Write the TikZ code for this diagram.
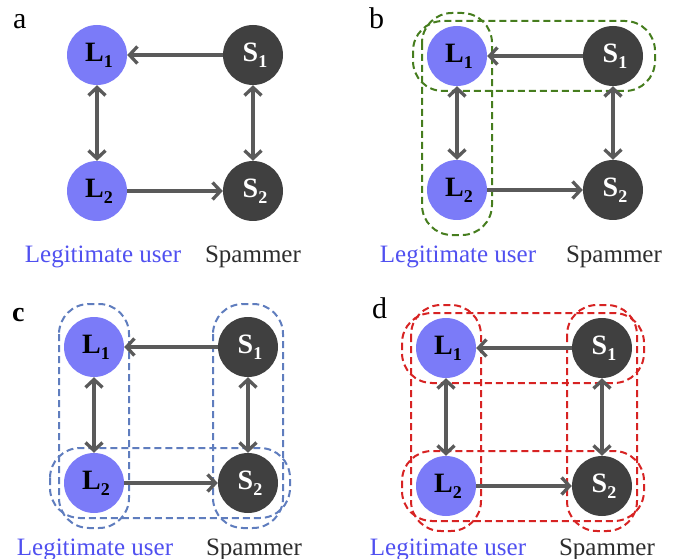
\documentclass[tikz,border=0pt]{standalone}
\usepackage{fontspec}
\setmainfont{Liberation Serif}
\usetikzlibrary{arrows.meta}
\definecolor{lblue}{RGB}{123,123,248}
\definecolor{dnode}{RGB}{64,64,64}
\definecolor{arrc}{RGB}{90,90,90}
\definecolor{ltext}{RGB}{80,80,240}
\definecolor{stext}{RGB}{45,45,45}
\definecolor{gdash}{RGB}{70,125,30}
\definecolor{bdash}{RGB}{95,125,190}
\definecolor{rdash}{RGB}{215,35,35}
\newcommand\nlab[2]{\hspace*{4pt}#1\raisebox{-6pt}{\fontsize{18}{18}\selectfont #2}}
% #1 prefix, #2 xL, #3 xS, #4 yT, #5 yB, #6 legit x, #7 spam x, #8 label baseline
\newcommand\drawpanel[8]{%
  \node[lnode] (#1L1) at (#2,#4) {\nlab{L}{1}};
  \node[snode] (#1S1) at (#3,#4) {\nlab{S}{1}};
  \node[lnode] (#1L2) at (#2,#5) {\nlab{L}{2}};
  \node[snode] (#1S2) at (#3,#5) {\nlab{S}{2}};
  \draw[arr] (#1S1) -- (#1L1);
  \draw[arr] (#1L2) -- (#1S2);
  \draw[arrd] (#1L1) -- (#1L2);
  \draw[arrd] (#1S1) -- (#1S2);
  \node[lab,text=ltext] (#1lg) at (#6,#8) {Legitimate user};
  \node[lab,text=stext] (#1sp) at (#7,#8) {Spammer};
}
% vertical group: #1 x, #2 yT, #3 yB
\newcommand\vgrp[3]{\draw[grp] ({#1-35},{#2-43}) rectangle ({#1+35},{#3+45});}
% horizontal group: #1 xL, #2 xS, #3 y
\newcommand\hgrp[3]{\draw[grp] ({#1-44},{#3-35}) rectangle ({#2+42},{#3+35});}
\begin{document}
\begin{tikzpicture}[x=1pt,y=-1pt,
  lnode/.style={circle,fill=lblue,minimum size=60pt,inner sep=0pt,font=\fontsize{28}{28}\selectfont\bfseries,text=black},
  snode/.style={circle,fill=dnode,minimum size=60pt,inner sep=0pt,font=\fontsize{28}{28}\selectfont\bfseries,text=white},
  arr/.style={draw=arrc,line width=3.3pt,-{Straight Barb[length=8pt,width=17pt]}},
  arrd/.style={draw=arrc,line width=3.3pt,{Straight Barb[length=8pt,width=17pt]}-{Straight Barb[length=8pt,width=17pt]}},
  lab/.style={anchor=base,inner sep=0pt,font=\fontsize{25}{25}\selectfont},
  letter/.style={anchor=base west,inner sep=0pt,font=\fontsize{30}{30}\selectfont},
  grp/.style={line width=2pt,dash pattern=on 7pt off 4pt,rounded corners=30pt}]
\useasboundingbox (0,0) rectangle (686,559);
% panel letters
\node[letter] (la) at (13,29) {a};
\node[letter] (lb) at (369,29) {b};
\node[letter,font=\fontsize{28}{28}\selectfont\bfseries] (lc) at (12,321) {c};
\node[letter] (ld) at (372,318) {d};
% groups
\begin{scope}
  \tikzset{grp/.append style={draw=gdash}}
  \vgrp{457}{56}{190}
  \hgrp{457}{613}{56}
\end{scope}
\begin{scope}
  \tikzset{grp/.append style={draw=bdash}}
  \vgrp{94}{347}{483}
  \vgrp{248}{347}{483}
  \hgrp{94}{248}{483}
\end{scope}
\begin{scope}
  \tikzset{grp/.append style={draw=rdash}}
  \vgrp{446}{348}{486}
  \vgrp{602}{348}{486}
  \hgrp{446}{602}{348}
  \hgrp{446}{602}{486}
\end{scope}
% panels
\drawpanel{a}{97}{253}{55}{191}{103}{253}{262}
\drawpanel{b}{457}{613}{56}{190}{458}{614}{262}
\drawpanel{c}{94}{248}{347}{483}{95}{254}{555}
\drawpanel{d}{446}{602}{348}{486}{448}{607}{555}
\end{tikzpicture}
\end{document}
